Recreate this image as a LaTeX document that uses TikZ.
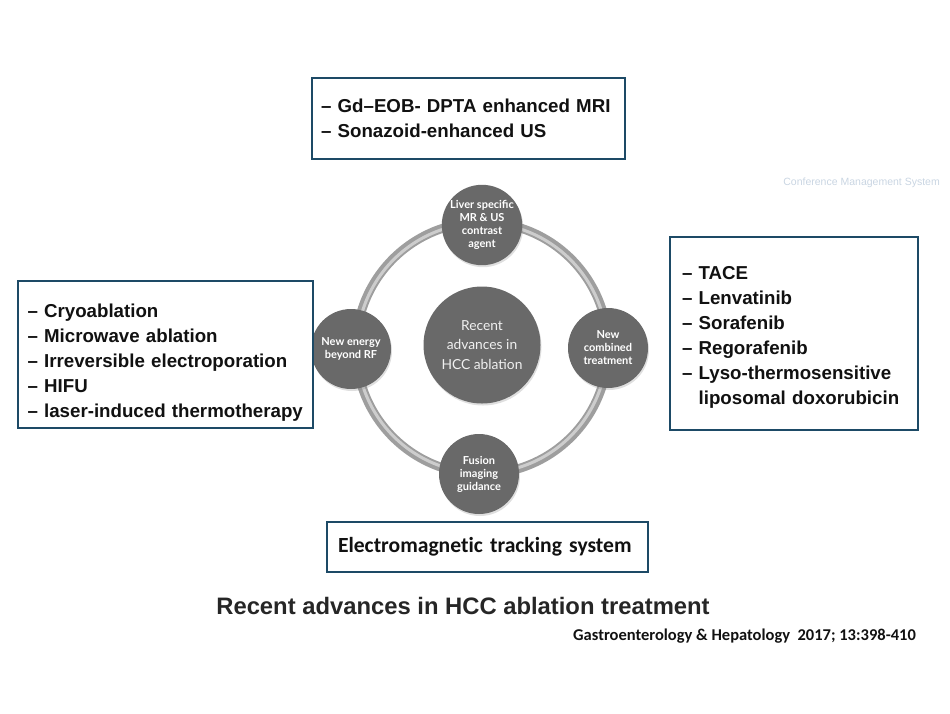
\documentclass[tikz,border=0pt]{standalone}
\usepackage{fontspec}
\setmainfont{Liberation Sans}
\newfontfamily\calfont{Carlito}[Ligatures=NoCommon]
\newfontfamily\ringfont{Lato}
\usetikzlibrary{shadows}
\definecolor{boxedge}{HTML}{1D4A66}
\definecolor{discfill}{HTML}{696969}
\definecolor{tubeouter}{HTML}{9E9E9E}
\definecolor{tubeinner}{HTML}{CDCDCD}
\definecolor{listink}{HTML}{111111}
\definecolor{titleink}{HTML}{262626}
\definecolor{markfaint}{HTML}{C9D5E2}

\begin{document}
\begin{tikzpicture}[
  x=1pt,
  y=-1pt,
  every node/.style={inner sep=0pt},
  listbox/.style={draw=boxedge, line width=2.6pt, fill=white, align=left,
    inner ysep=0pt, text=listink,
    font=\bfseries\fontsize{18.7}{25}\selectfont},
  disc/.style={circle, fill=discfill, minimum size=80pt, align=center,
    text=white, font=\ringfont\bfseries\fontsize{11}{13}\selectfont,
    drop shadow={opacity=0.25, shadow xshift=1pt, shadow yshift=-2pt}},
  hubdisc/.style={disc, minimum size=117pt, text=gray!12,
    font=\ringfont\fontsize{13.8}{19.5}\selectfont},
  tube/.style={tubeouter, line width=9pt},
  tubeglint/.style={tubeinner, line width=3pt}
]
  \useasboundingbox (0,0) rectangle (950,713);

  % ================= the ring and its discs =============================
  \coordinate (ringmid) at (482,348);
  \draw[tube] (ringmid) circle[radius=126];
  \draw[tubeglint] (ringmid) circle[radius=125];

  \node[hubdisc] (hub) at (482,345) {Recent\\advances in\\HCC ablation};

  \node[disc] (contrast) at (482,225)
    {Liver specific\\MR \& US\\contrast\\agent};
  \node[disc] (energy) at (351,349) {New energy\\beyond RF};
  \node[disc] (combined) at (608,348) {New\\combined\\treatment};
  \node[disc] (fusion) at (479,474) {Fusion\\imaging\\guidance};

  % ================= the four boxes =====================================
  \node[listbox, minimum height=81pt, text width=295pt, inner xsep=9pt]
    (contrastlist) at (468.5,118.5)
    {-- Gd--EOB- DPTA enhanced MRI\\
     -- Sonazoid-enhanced US};

  % the struts on the first lines push the lists down in their boxes
  \node[listbox, minimum height=193pt, text width=224pt, inner xsep=12pt]
    (combinedlist) at (794,333.5)
    {\rule{0pt}{21.5pt}-- TACE\\
     -- Lenvatinib\\
     -- Sorafenib\\
     -- Regorafenib\\
     -- Lyso-thermosensitive\\
     \phantom{-- }liposomal doxorubicin};

  \node[listbox, minimum height=147pt, text width=276pt, inner xsep=9.5pt]
    (energylist) at (165.5,354.5)
    {\rule{0pt}{29.5pt}-- Cryoablation\\
     -- Microwave ablation\\
     -- Irreversible electroporation\\
     -- HIFU\\
     -- laser-induced thermotherapy};

  \node[listbox, minimum height=50pt, text width=299pt, inner xsep=11pt,
        font=\calfont\bfseries\fontsize{21.6}{25}\selectfont]
    (fusionlist) at (487.5,547) {Electromagnetic tracking system};

  % ================= caption and source =================================
  \node[text=titleink, font=\bfseries\fontsize{23.8}{28}\selectfont]
    (title) at (463,606) {Recent advances in HCC ablation treatment};
  \node[anchor=east, text=listink,
        font=\calfont\bfseries\fontsize{16.5}{19}\selectfont]
    (source) at (916,636)
    {Gastroenterology \& Hepatology\ \ 2017; 13:398-410};

  \node[anchor=east, text=markfaint, font=\fontsize{10.5}{12}\selectfont]
    (mark) at (940,183) {Conference Management System};
\end{tikzpicture}
\end{document}
